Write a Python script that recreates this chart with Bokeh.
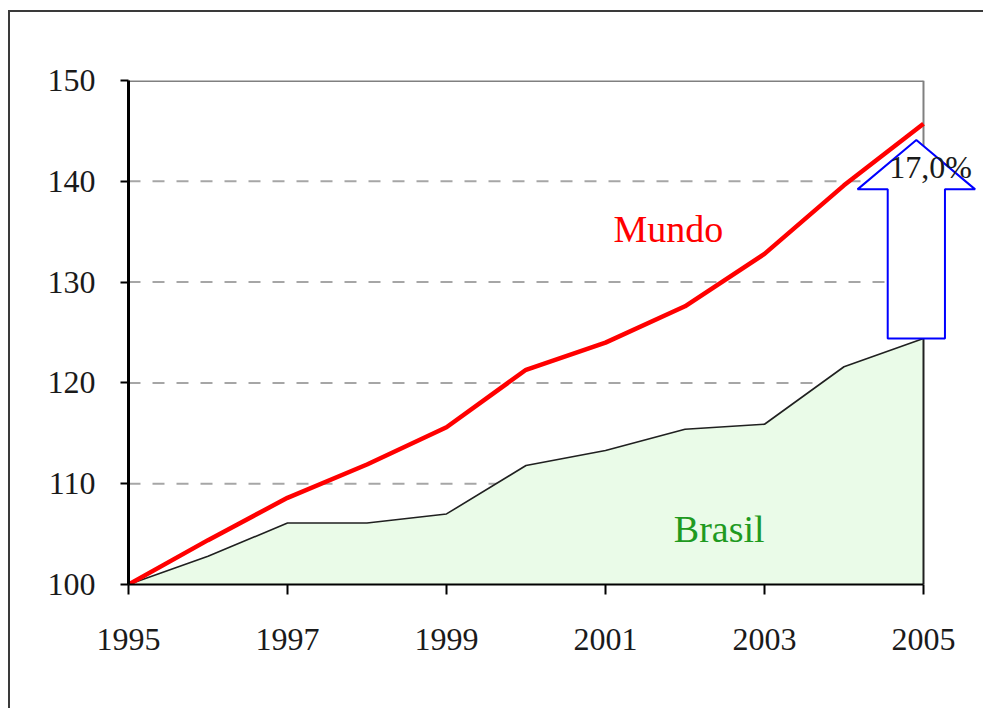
from bokeh.plotting import figure
from bokeh.models import FixedTicker, Range1d
from bokeh.core.properties import value
from bokeh.embed import file_html
from bokeh.resources import INLINE

# ---- data ----
years = [1995, 1996, 1997, 1998, 1999, 2000, 2001, 2002, 2003, 2004, 2005]
mundo = [100.0, 104.4, 108.6, 111.9, 115.6, 121.3, 124.0, 127.6, 132.8, 139.6, 145.7]
brasil = [100.0, 102.8, 106.1, 106.1, 107.0, 111.8, 113.3, 115.4, 115.9, 121.6, 124.4]
x_ticks = [1995, 1997, 1999, 2001, 2003, 2005]
y_ticks = [100, 110, 120, 130, 140, 150]
grid_levels = [110, 120, 130, 140]
series_names = ["Mundo", "Brasil"]
gap_label = "17,0%"

FONT = "Liberation Serif"
Y0, Y1 = 100, 150
X0, X1 = years[0], years[-1]

p = figure(width=975, height=698, output_backend="svg", toolbar_location=None,
           x_range=Range1d(X0, 2005.78), y_range=Range1d(Y0, Y1),
           min_border_left=118, min_border_top=68, min_border_bottom=126,
           min_border_right=0, background_fill_color="white",
           border_fill_color="white")
# outer picture border: only top and left edges are visible in the original
p.styles = {"margin-left": "8px", "margin-top": "10px",
            "border-top": "2px solid #3a3a3a", "border-left": "2px solid #3a3a3a",
            "border-right": "0px none white", "border-bottom": "0px none white"}
p.outline_line_color = None
p.grid.visible = False

# axes
p.xaxis.ticker = FixedTicker(ticks=x_ticks)
p.xaxis.bounds = (X0, X1)
p.yaxis.ticker = FixedTicker(ticks=y_ticks)
for ax in (p.xaxis, p.yaxis):
    ax.axis_line_color = "black"
    ax.major_tick_line_color = "black"
    ax.major_tick_line_width = 2
    ax.major_tick_in = 0
    ax.minor_tick_line_color = None
    ax.major_label_text_font = FONT
    ax.major_label_text_font_size = "32px"
    ax.major_label_text_color = "#1a1a1a"
p.xaxis.axis_line_width = 2
p.yaxis.axis_line_width = 3
p.xaxis.major_tick_out = 10
p.yaxis.major_tick_out = 8
p.xaxis.major_label_standoff = 34
p.yaxis.major_label_standoff = 25

# dashed grid lines, only across the data span
p.segment(x0=[X0] * len(grid_levels), x1=[X1] * len(grid_levels),
          y0=grid_levels, y1=grid_levels, line_color="#a6a6a6",
          line_width=2, line_dash="12 12")

# Brasil area
p.varea(x=years, y1=[Y0] * len(years), y2=brasil, fill_color="#eafbe8")
p.line(years, brasil, line_color="#202020", line_width=1.6)
p.segment(x0=[X1], x1=[X1], y0=[Y0], y1=[brasil[-1]], line_color="#202020", line_width=2)

# frame top / right
p.line([X0, X1], [Y1, Y1], line_color="#808080", line_width=3)
p.segment(x0=[X1], x1=[X1], y0=[brasil[-1]], y1=[Y1], line_color="#808080", line_width=2)

# Mundo line
p.line(years, mundo, line_color="#ff0000", line_width=4.5)

# arrow showing the gap
cx = X1 - 0.09
shaft = 0.36
head = 0.74
head_base = 139.2
tip = 144.1
bottom = brasil[-1]
p.patch(x=[cx - shaft, cx - shaft, cx - head, cx, cx + head, cx + shaft, cx + shaft],
        y=[bottom, head_base, head_base, tip, head_base, head_base, bottom],
        fill_color="white", line_color="#0000ff", line_width=2)

p.text(x=[X1 + 0.09], y=[141.4], text=[gap_label], text_font=value(FONT),
       text_font_size="32px", text_color="#1a1a1a", text_align="center",
       text_baseline="middle")
p.text(x=[2001.79], y=[135.3], text=[series_names[0]], text_font=value(FONT),
       text_font_size="38px", text_color="#ff0000", text_align="center",
       text_baseline="middle")
p.text(x=[2002.43], y=[105.5], text=[series_names[1]], text_font=value(FONT),
       text_font_size="38px", text_color="#1f9a1f", text_align="center",
       text_baseline="middle")

open("out.html", "w").write(file_html(p, INLINE))
